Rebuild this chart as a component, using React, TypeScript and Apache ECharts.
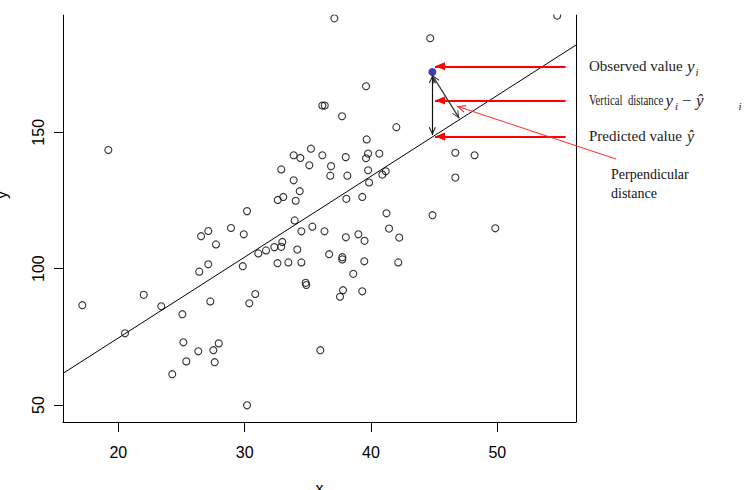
import React, { useEffect, useRef } from "react";
import * as echarts from "echarts";

// ---- axis ticks and limits ----
const xTickValues = [20, 30, 40, 50];
const yTickValues = [50, 100, 150];
const xLimits = [15.62, 56.23];
const yLimits = [43.77, 193.02];

// ---- observations (x, y) ----
const observations: number[][] = [
  [19.21, 143.5], [17.15, 86.6], [22.01, 90.4], [20.53, 76.3], [23.4, 86.2],
  [25.07, 83.3], [26.41, 98.9], [27.12, 101.6], [27.73, 108.9], [27.28, 88.0],
  [25.15, 73.0], [26.33, 69.7], [25.38, 66.0], [24.27, 61.3], [27.95, 72.6],
  [27.52, 70.1], [27.63, 65.7], [29.85, 100.9], [30.37, 87.3], [30.84, 90.7],
  [30.19, 49.9], [26.55, 111.9], [27.12, 113.8], [28.92, 114.9], [29.93, 112.6],
  [30.19, 121.1], [31.08, 105.6], [31.69, 106.7], [32.35, 107.9], [32.9, 108.0],
  [32.98, 109.8], [34.17, 107.0], [32.6, 102.0], [33.46, 102.3], [34.49, 102.3],
  [36.69, 105.3], [37.73, 104.2], [37.73, 103.4], [39.47, 102.7], [42.16, 102.3],
  [38.6, 98.1], [34.83, 94.8], [34.88, 94.0], [37.79, 92.1], [37.55, 89.7],
  [39.31, 91.7], [35.99, 70.1], [33.96, 117.7], [35.36, 115.4], [34.49, 113.7],
  [36.32, 113.7], [38.01, 111.5], [39.0, 112.6], [39.49, 110.2], [41.23, 120.3],
  [41.43, 114.7], [42.24, 111.4], [44.87, 119.6], [49.84, 114.8], [46.68, 142.5],
  [48.2, 141.6], [46.68, 133.4], [42.01, 151.9], [44.69, 184.5], [54.74, 192.8],
  [37.1, 191.8], [39.61, 166.9], [36.15, 159.8], [36.34, 159.8], [37.71, 155.9],
  [39.66, 147.4], [35.25, 144.0], [33.88, 141.6], [34.41, 140.6], [36.15, 141.6],
  [38.0, 140.9], [39.77, 142.2], [39.61, 140.5], [40.66, 142.2], [32.9, 136.4],
  [35.12, 137.9], [36.84, 137.6], [36.78, 134.1], [38.13, 134.1], [39.77, 136.1],
  [41.17, 135.7], [40.9, 134.5], [39.85, 131.6], [33.88, 132.4], [34.36, 128.4],
  [33.06, 126.3], [32.62, 125.2], [34.04, 124.9], [38.05, 125.6], [39.31, 126.3],
];

const highlightedPoint: number[][] = [[44.86, 172.1]];
const fittedLine: number[][] = [[15.62, 61.6], [56.23, 182.0]];

// ---- annotation anchors (data units) ----
const labelArrowX = [55.41, 45.07];
const labelArrowY = [174.2, 161.7, 148.5];
const verticalDistance = [[44.86, 170.9], [44.86, 149.0]];
const perpendicularDistance = [[44.86, 170.9], [46.99, 155.1]];
const perpendicularPointerTip = [46.79, 159.6];

const chevron = "path://M0,0 L6,10 L4.4,10.6 L0,3 L-4.4,10.6 L-6,10 Z";
const serif = '"Liberation Serif", "Times New Roman", serif';
const sans = '"Liberation Sans Narrow", "Liberation Sans", Arial, sans-serif';

export default function App() {
  const ref = useRef<HTMLDivElement>(null);
  useEffect(() => {
    document.body.style.margin = "0";
    if (!ref.current) return;
    const chart = echarts.init(ref.current, null, { renderer: "svg" });

    const redArrows = labelArrowY.map((y) => [
      {
        coord: [labelArrowX[0], y],
        symbol: "none",
        lineStyle: { color: "#ff0000", width: 2, type: "solid" },
      },
      {
        coord: [labelArrowX[1], y],
        symbol: "triangle",
        symbolSize: [8, 10],
        symbolOffset: [0, 5],
      },
    ]);

    const option: any = {
      animation: false,
      backgroundColor: "#ffffff",
      grid: { left: 63, right: 168, top: 15, bottom: 68, containLabel: false, outerBoundsMode: "none" },
      xAxis: {
        type: "value",
        min: xLimits[0],
        max: xLimits[1],
        name: "x",
        nameLocation: "middle",
        nameGap: 58,
        nameTextStyle: { fontFamily: sans, fontSize: 16, color: "#000" },
        axisLine: { show: true, onZero: false, lineStyle: { color: "#000", width: 1 } },
        axisTick: { show: true, length: 10, customValues: xTickValues, lineStyle: { color: "#000" } },
        axisLabel: {
          customValues: xTickValues,
          margin: 22,
          fontFamily: sans,
          fontSize: 16,
          color: "#000",
        },
        splitLine: { show: false },
      },
      yAxis: [
        {
          type: "value",
          min: yLimits[0],
          max: yLimits[1],
          name: "y",
          nameLocation: "middle",
          nameGap: 54,
          nameTextStyle: { fontFamily: sans, fontSize: 16, color: "#000", padding: [0, 0, 0, 47] },
          axisLine: { show: true, onZero: false, lineStyle: { color: "#000", width: 1 } },
          axisTick: { show: true, length: 9, customValues: yTickValues, lineStyle: { color: "#000" } },
          axisLabel: {
            customValues: yTickValues,
            rotate: 90,
            margin: 17,
            fontFamily: sans,
            fontSize: 16,
            color: "#000",
          },
          splitLine: { show: false },
        },
        {
          type: "value",
          position: "right",
          min: yLimits[0],
          max: yLimits[1],
          axisLine: { show: true, onZero: false, lineStyle: { color: "#000", width: 1 } },
          axisTick: { show: false },
          axisLabel: { show: false },
          splitLine: { show: false },
        },
      ],
      series: [
        {
          type: "line",
          data: fittedLine,
          showSymbol: false,
          symbol: "none",
          silent: true,
          lineStyle: { color: "#000", width: 1 },
          z: 1,
        },
        {
          type: "scatter",
          data: observations,
          symbol: "circle",
          symbolSize: 7,
          silent: true,
          itemStyle: { color: "rgba(0,0,0,0)", borderColor: "#000", borderWidth: 1.1 },
          z: 2,
        },
        {
          type: "scatter",
          data: highlightedPoint,
          symbol: "circle",
          symbolSize: 8,
          clip: false,
          silent: true,
          itemStyle: { color: "#0b0b9c" },
          z: 4,
          markLine: {
            silent: true,
            animation: false,
            precision: 4,
            label: { show: false },
            emphasis: { disabled: true },
            data: [
              ...redArrows,
              [
                {
                  coord: verticalDistance[0],
                  symbol: chevron,
                  symbolSize: [7, 8],
                  symbolOffset: [0, 4],
                  lineStyle: { color: "#111", width: 1.2, type: "solid" },
                },
                { coord: verticalDistance[1], symbol: chevron, symbolSize: [7, 8], symbolOffset: [0, 4] },
              ],
              [
                {
                  coord: perpendicularDistance[0],
                  symbol: chevron,
                  symbolSize: [7, 8],
                  symbolOffset: [0, 4],
                  lineStyle: { color: "#3a3a3a", width: 1.3, type: "solid" },
                },
                { coord: perpendicularDistance[1], symbol: chevron, symbolSize: [7, 8], symbolOffset: [0, 4] },
              ],
              [
                {
                  x: 616,
                  y: 159,
                  symbol: "none",
                  lineStyle: { color: "#ff2a2a", width: 1, type: "solid" },
                },
                { coord: perpendicularPointerTip, symbol: chevron, symbolSize: [8, 9], symbolOffset: [0, 4.5] },
              ],
            ],
          },
        },
      ],
      graphic: [
        {
          type: "rect",
          silent: true,
          z: 100,
          shape: { x: 60, y: 0, width: 520, height: 14.6 },
          style: { fill: "#ffffff" },
        },
        {
          type: "text", x: 589, y: 66.3, silent: true, z: 100,
          style: { text: "Observed value", font: `15px ${serif}`, fill: "#222", align: "left", verticalAlign: "middle" },
        },
        {
          type: "text", x: 687, y: 66.3, silent: true, z: 100,
          style: { text: "y", font: `italic 17px ${serif}`, fill: "#222", align: "left", verticalAlign: "middle" },
        },
        {
          type: "text", x: 695.5, y: 72.3, silent: true, z: 100,
          style: { text: "i", font: `italic 11px ${serif}`, fill: "#222", align: "left", verticalAlign: "middle" },
        },
        {
          type: "text", x: 589, y: 100.3, scaleX: 0.72, scaleY: 1, silent: true, z: 100,
          style: { text: "Vertical  distance", font: `15px ${serif}`, fill: "#222", align: "left", verticalAlign: "middle" },
        },
        {
          type: "text", x: 665.5, y: 100.3, silent: true, z: 100,
          style: { text: "y", font: `italic 17px ${serif}`, fill: "#222", align: "left", verticalAlign: "middle" },
        },
        {
          type: "text", x: 675, y: 106.3, silent: true, z: 100,
          style: { text: "i", font: `italic 11px ${serif}`, fill: "#222", align: "left", verticalAlign: "middle" },
        },
        {
          type: "text", x: 682, y: 100.3, silent: true, z: 100,
          style: { text: "\u2212", font: `17px ${serif}`, fill: "#222", align: "left", verticalAlign: "middle" },
        },
        {
          type: "text", x: 696, y: 100.3, silent: true, z: 100,
          style: { text: "\u0177", font: `italic 17px ${serif}`, fill: "#222", align: "left", verticalAlign: "middle" },
        },
        {
          type: "text", x: 738.5, y: 106.3, silent: true, z: 100,
          style: { text: "i", font: `italic 11px ${serif}`, fill: "#222", align: "left", verticalAlign: "middle" },
        },
        {
          type: "text", x: 589, y: 136.3, silent: true, z: 100,
          style: { text: "Predicted value", font: `15px ${serif}`, fill: "#222", align: "left", verticalAlign: "middle" },
        },
        {
          type: "text", x: 687, y: 136.3, silent: true, z: 100,
          style: { text: "\u0177", font: `italic 16px ${serif}`, fill: "#222", align: "left", verticalAlign: "middle" },
        },
        {
          type: "text", x: 611, y: 164.3, silent: true, z: 100,
          style: {
            text: "Perpendicular\ndistance",
            font: `14px ${serif}`,
            lineHeight: 19.7,
            fill: "#111",
            align: "left",
            verticalAlign: "top",
          },
        },
      ],
    };

    chart.setOption(option);
    return () => chart.dispose();
  }, []);

  return <div ref={ref} style={{ width: 744, height: 490 }} />;
}
